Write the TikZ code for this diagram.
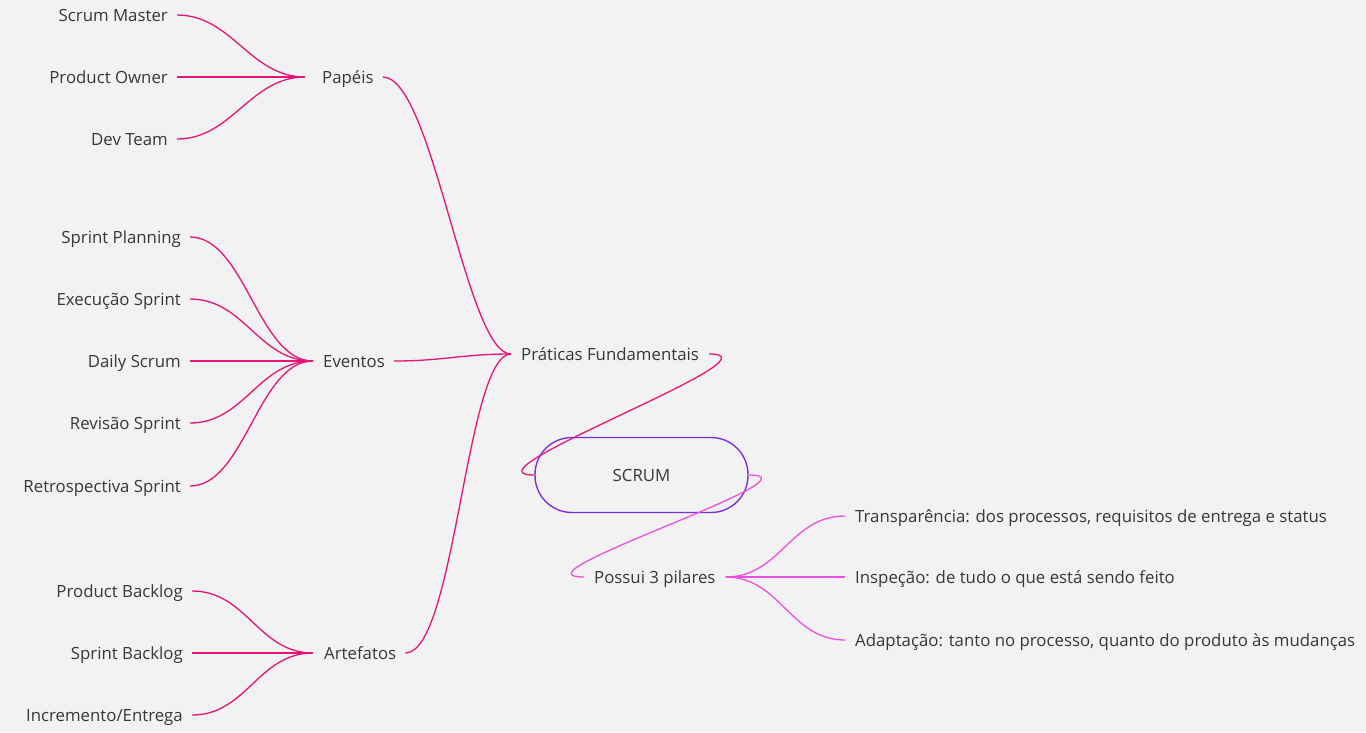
\documentclass[tikz,border=0pt]{standalone}
\usepackage{fontspec}
\setmainfont{Open Sans}
\usetikzlibrary{calc}
\definecolor{bgc}{RGB}{242,242,242}
\definecolor{linkc}{RGB}{230,20,120}
\definecolor{pilc}{RGB}{236,80,222}
\definecolor{scrumc}{RGB}{122,50,222}
\definecolor{txtc}{RGB}{55,55,55}
\begin{document}
\begin{tikzpicture}[x=1pt,y=-1pt,
  lbl/.style={font=\fontsize{16.8}{20}\selectfont, text=txtc, text height=13.4pt, text depth=0pt, inner ysep=0pt, inner xsep=9pt},
  pillbl/.style={lbl, inner xsep=10pt},
  link/.style={draw=linkc, line width=1.3pt},
  plink/.style={draw=pilc, line width=1.3pt},
  scrumbox/.style={draw=scrumc, line width=1.4pt, rounded corners=37pt, minimum width=213pt, minimum height=75pt, font=\fontsize{16.8}{20}\selectfont, text=txtc}
]
\fill[bgc] (0,0) rectangle (1366,732);
\useasboundingbox (0,0) rectangle (1366,732);

% Papeis
\node[lbl, anchor=east] (sm) at (177,15) {Scrum Master};
\node[lbl, anchor=east] (po) at (177,77) {Product Owner};
\node[lbl, anchor=east] (dt) at (177,139) {Dev Team};
\node[lbl, anchor=west] (pap) at (313,77) {Papéis};
\coordinate (papJ) at (305,77);

% Eventos
\node[lbl, anchor=east] (sp) at (190,237) {Sprint Planning};
\node[lbl, anchor=east] (es) at (190,299) {Execução Sprint};
\node[lbl, anchor=east] (ds) at (190,361) {Daily Scrum};
\node[lbl, anchor=east] (rs) at (190,423) {Revisão Sprint};
\node[lbl, anchor=east] (rts) at (190,486) {Retrospectiva Sprint};
\node[lbl, anchor=west] (eve) at (314,361) {Eventos};
\coordinate (eveJ) at (313,361);

% Artefatos
\node[lbl, anchor=east] (pb) at (192,591) {Product Backlog};
\node[lbl, anchor=east] (sb) at (192,653) {Sprint Backlog};
\node[lbl, anchor=east] (ie) at (192,715) {Incremento/Entrega};
\node[lbl, anchor=west] (art) at (315,653) {Artefatos};
\coordinate (artJ) at (313,653);

% Praticas
\node[pillbl, anchor=west] (pf) at (511,354) {Práticas Fundamentais};

% SCRUM
\node[scrumbox] (scrum) at (641.5,475) {SCRUM};

% Pilares
\node[pillbl, anchor=west] (pil) at (584,577) {Possui 3 pilares};
\node[pillbl, anchor=west] (tr) at (845,516) {Transparência: dos processos, requisitos de entrega e status};
\node[pillbl, anchor=west] (ins) at (845,577) {Inspeção: de tudo o que está sendo feito};
\node[pillbl, anchor=west] (ad) at (845,640) {Adaptação: tanto no processo, quanto do produto às mudanças};

% leaf connectors
\foreach \n in {sm,po,dt}
  \draw[link] (papJ) .. controls +(-55,0) and +(55,0) .. (\n.east);
\foreach \n in {sp,es,ds,rs,rts}
  \draw[link] (eveJ) .. controls +(-55,0) and +(55,0) .. (\n.east);
\foreach \n in {pb,sb,ie}
  \draw[link] (artJ) .. controls +(-55,0) and +(55,0) .. (\n.east);

% branch connectors
\draw[link] (pap.east) .. controls +(50,0) and +(-45,0) .. (pf.west);
\draw[link] (eve.east) .. controls +(50,0) and +(-50,0) .. (pf.west);
\draw[link] (art.east) .. controls +(50,0) and +(-45,0) .. (pf.west);

% scrum connectors
\draw[link] (scrum.west) .. controls +(-80,0) and +(80,0) .. (pf.east);
\draw[plink] (scrum.east) .. controls +(80,0) and +(-80,0) .. (pil.west);

% pillar connectors
\foreach \n in {tr,ins,ad}
  \draw[plink] (pil.east) .. controls +(55,0) and +(-55,0) .. (\n.west);
\end{tikzpicture}
\end{document}
